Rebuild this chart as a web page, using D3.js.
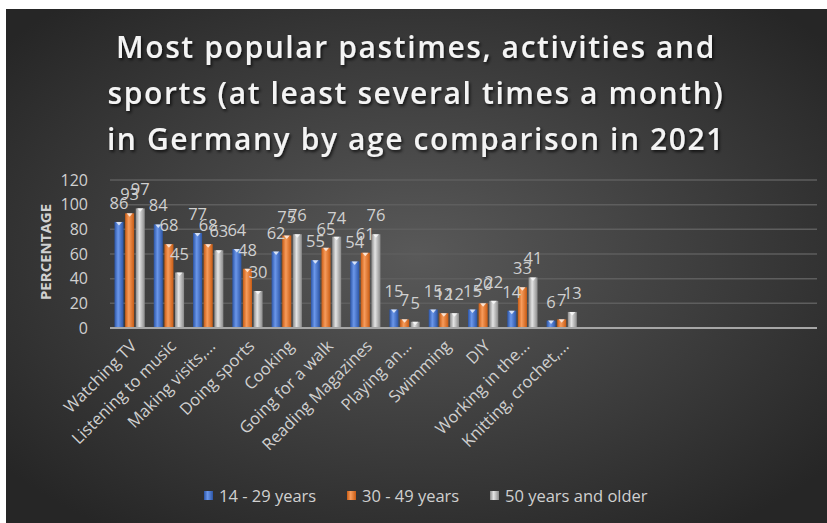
<!DOCTYPE html>
<html>
<head>
<meta charset="utf-8">
<script src="https://cdn.jsdelivr.net/npm/d3@7"></script>
<style>
  body { margin: 0; background: #fff; }
  text { font-family: "Open Sans", sans-serif; }
</style>
</head>
<body>
<svg id="chart" width="827" height="523"></svg>
<script>
// data
const categories = ["Watching TV", "Listening to music", "Making visits,...", "Doing sports", "Cooking",
  "Going for a walk", "Reading Magazines", "Playing an...", "Swimming", "DIY", "Working in the...", "Knitting, crochet,..."]
const seriesNames = ["14 - 29 years", "30 - 49 years", "50 years and older"]
const young = [86, 84, 77, 64, 62, 55, 54, 15, 15, 15, 14, 6]
const middle = [93, 68, 68, 48, 75, 65, 61, 7, 12, 20, 33, 7]
const older = [97, 45, 63, 30, 76, 74, 76, 5, 12, 22, 41, 13]
const yTicks = [0, 20, 40, 60, 80, 100, 120]
const emptySlots = 6 // blank rows in the sheet, they keep room on the right

const titleLines = ["Most popular pastimes, activities and",
  "sports (at least several times a month)",
  "in Germany by age comparison in 2021"]

const W = 827, H = 523
const plotLeft = 110, plotRight = 817, plotTop = 180, plotBottom = 328

const svg = d3.select("#chart")
const defs = svg.append("defs")

// background
const bg = defs.append("radialGradient").attr("id", "bg")
  .attr("cx", "50%").attr("cy", "48%").attr("r", "65%")
bg.append("stop").attr("offset", "0%").attr("stop-color", "#595959")
bg.append("stop").attr("offset", "100%").attr("stop-color", "#262626")
svg.append("rect").attr("width", W).attr("height", H).attr("fill", "#fff")
svg.append("rect").attr("x", 6).attr("y", 9).attr("width", W - 6).attr("height", H - 9).attr("fill", "url(#bg)")

const shadow = defs.append("filter").attr("id", "shadow")
shadow.append("feDropShadow").attr("dx", 1.5).attr("dy", 2).attr("stdDeviation", 1.5)
  .attr("flood-color", "#000").attr("flood-opacity", 0.7)

// bar gradients, darker at the edges
const barColors = [
  { edge: "#2c55a6", mid: "#6b97ea" },
  { edge: "#c95c14", mid: "#f79c5c" },
  { edge: "#8a8a8a", mid: "#e4e4e4" }
]
barColors.forEach((c, i) => {
  const g = defs.append("linearGradient").attr("id", "bar" + i)
    .attr("x1", "0%").attr("x2", "100%").attr("y1", "0%").attr("y2", "0%")
  g.append("stop").attr("offset", "0%").attr("stop-color", c.edge)
  g.append("stop").attr("offset", "40%").attr("stop-color", c.mid)
  g.append("stop").attr("offset", "100%").attr("stop-color", c.edge)
})

// title
svg.append("text")
  .attr("x", 416).attr("y", 58)
  .attr("text-anchor", "middle")
  .attr("fill", "#f4f4f4")
  .attr("font-size", 30).attr("font-weight", 600)
  .attr("letter-spacing", 1.6)
  .attr("filter", "url(#shadow)")
  .selectAll("tspan")
  .data(titleLines)
  .enter()
  .append("tspan")
  .attr("x", 416)
  .attr("dy", (d, i) => i == 0 ? 0 : 46)
  .text(d => d)

// scales
const slots = categories.concat(d3.range(emptySlots).map(i => "empty" + i))
const x = d3.scaleBand().domain(slots).range([plotLeft, plotRight])
const x1 = d3.scaleBand().domain(d3.range(3)).range([4.5, x.step() - 4.5]).paddingInner(0.15)
const y = d3.scaleLinear().domain([0, 120]).range([plotBottom, plotTop])

// gridlines
svg.append("g").selectAll("line")
  .data(yTicks.slice(1))
  .enter()
  .append("line")
  .attr("x1", plotLeft).attr("x2", plotRight)
  .attr("y1", d => y(d)).attr("y2", d => y(d))
  .attr("stroke", "#5e5e5e").attr("stroke-width", 1.5)

// y tick labels
svg.append("g").selectAll("text")
  .data(yTicks)
  .enter()
  .append("text")
  .attr("x", 88).attr("y", d => y(d))
  .attr("dy", "0.35em")
  .attr("text-anchor", "end")
  .attr("font-size", 16)
  .attr("fill", "#d0d0d0")
  .text(d => d)

svg.append("text")
  .attr("transform", "translate(51," + (y(60) - 2) + ") rotate(-90)")
  .attr("text-anchor", "middle")
  .attr("font-size", 15).attr("font-weight", "bold")
  .attr("fill", "#d0d0d0")
  .text("PERCENTAGE")

// bars
const series = [young, middle, older]
const rows = []
categories.forEach((c, i) => {
  series.forEach((s, j) => rows.push({ cat: c, s: j, v: s[i] }))
})

const bars = svg.append("g")
bars.selectAll("rect")
  .data(rows)
  .enter()
  .append("rect")
  .attr("x", d => x(d.cat) + x1(d.s))
  .attr("y", d => y(d.v))
  .attr("width", x1.bandwidth())
  .attr("height", d => plotBottom - y(d.v))
  .attr("fill", d => "url(#bar" + d.s + ")")

// little bevel triangle on top of each bar
bars.selectAll("path")
  .data(rows)
  .enter()
  .append("path")
  .attr("d", d => {
    const x0 = x(d.cat) + x1(d.s), w = x1.bandwidth(), t = y(d.v)
    return "M" + (x0 + 1.5) + "," + t + "L" + (x0 + w - 1.5) + "," + t + "L" + (x0 + w / 2) + "," + (t + Math.min(3.5, plotBottom - t)) + "Z"
  })
  .attr("fill", "#fff").attr("opacity", 0.75)

// data labels
svg.append("g").selectAll("text")
  .data(rows)
  .enter()
  .append("text")
  .attr("x", d => x(d.cat) + x1(d.s) + x1.bandwidth() / 2)
  .attr("y", d => y(d.v) - 13)
  .attr("text-anchor", "middle")
  .attr("font-size", 16.5)
  .attr("fill", "#d0d0d0")
  .text(d => d.v)

// baseline
svg.append("line")
  .attr("x1", plotLeft).attr("x2", plotRight)
  .attr("y1", plotBottom).attr("y2", plotBottom)
  .attr("stroke", "#a6a6a6").attr("stroke-width", 2)

// x labels
svg.append("g").selectAll("text")
  .data(categories)
  .enter()
  .append("text")
  .attr("transform", d => "translate(" + (x(d) + x.bandwidth() / 2 + 4) + "," + (plotBottom + 15) + ") rotate(-45)")
  .attr("text-anchor", "end")
  .attr("dy", "0.35em")
  .attr("font-size", 16.5)
  .attr("fill", "#d0d0d0")
  .text(d => d)

// legend
const legendX = [204, 347, 490]
const legend = svg.append("g").selectAll("g")
  .data(seriesNames)
  .enter()
  .append("g")
  .attr("transform", (d, i) => "translate(" + legendX[i] + ",496)")
legend.append("rect")
  .attr("x", 0).attr("y", -5)
  .attr("width", 9).attr("height", 9)
  .attr("fill", (d, i) => "url(#bar" + i + ")")
legend.append("text")
  .attr("x", 15).attr("y", 0)
  .attr("dy", "0.35em")
  .attr("font-size", 16.5)
  .attr("fill", "#d0d0d0")
  .text(d => d)
</script>
</body>
</html>
